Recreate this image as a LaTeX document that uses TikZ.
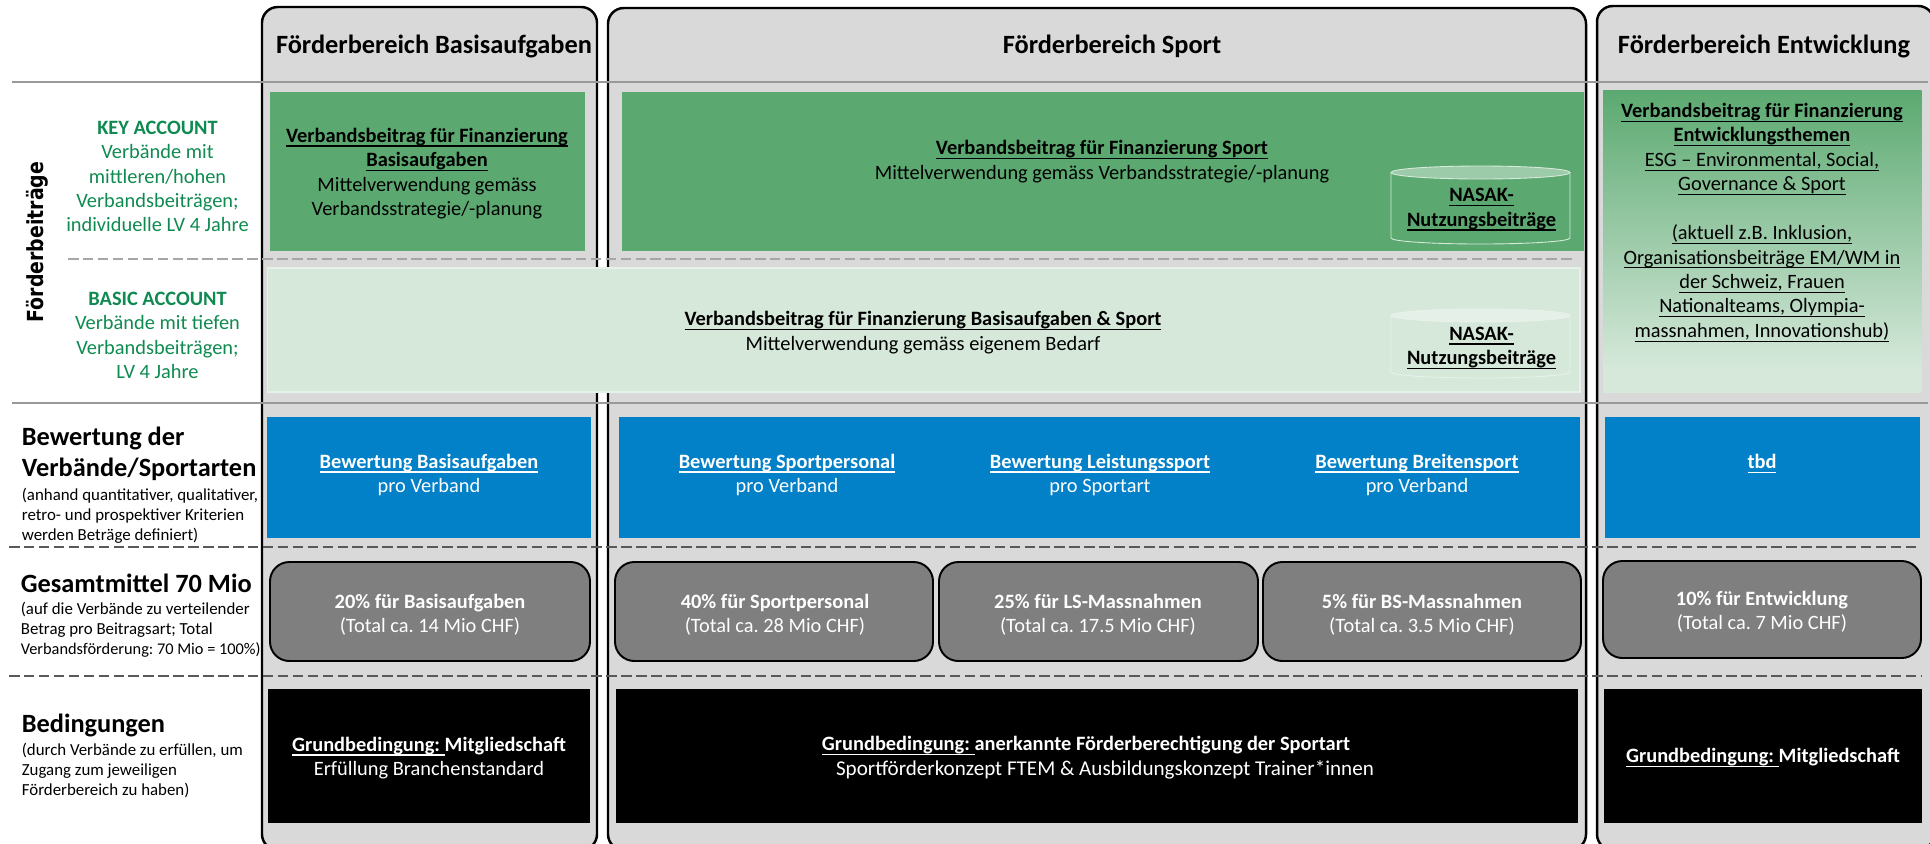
\documentclass[tikz,border=0pt]{standalone}
\usepackage{fontspec}
\setmainfont{Carlito}
\newfontfamily\labelfont{DejaVu Sans}
\newcommand{\uline}[1]{{\setbox0\hbox{#1}\rlap{\rule[-2.5pt]{\wd0}{0.7pt}}\box0}}
\definecolor{panelgray}{HTML}{D9D9D9}
\definecolor{keygreen}{HTML}{5BA970}
\definecolor{basicgreen}{HTML}{D5E8DA}
\definecolor{textgreen}{HTML}{0F8A50}
\definecolor{rateblue}{HTML}{0280C8}
\definecolor{fundgray}{HTML}{7F7F7F}
\pgfdeclareverticalshading{devshade}{100bp}{color(0bp)=(basicgreen); color(25bp)=(basicgreen); color(29bp)=(basicgreen); color(75bp)=(keygreen); color(100bp)=(keygreen)}
\tikzset{
    panel/.style={fill=panelgray, draw=black, line width=1.4pt, rounded corners=9pt},
    bodytext/.style={align=center, inner sep=0pt, font=\fontsize{11.6}{13.9}\selectfont},
    headtext/.style={inner sep=0pt, font=\fontsize{15}{17}\selectfont\bfseries},
    sidehead/.style={anchor=west, inner sep=0pt, font=\fontsize{15}{17}\selectfont\bfseries},
    sidenote/.style={anchor=north west, align=left, inner sep=0pt, font=\fontsize{9.6}{11.2}\selectfont},
    solidrule/.style={draw=gray!80, line width=0.6pt},
    softdash/.style={draw=gray!70, line width=0.6pt, dash pattern=on 6pt off 2.5pt},
    harddash/.style={draw=black!65, line width=0.6pt, dash pattern=on 6pt off 2.5pt},
    fundbox/.style={fill=fundgray, draw=black, line width=1.1pt, rounded corners=11pt}
}
\begin{document}
\frenchspacing
\begin{tikzpicture}[x=0.02cm, y=-0.02cm]
    \clip (0,0) rectangle (1930,843);
    % columns
    \draw[panel] (262,7) rectangle (597,850);
    \draw[panel] (608,8) rectangle (1586,850);
    \draw[panel] (1597,6) rectangle (1934,850);
    \node[headtext] (headbasis) at (434,46) {Förderbereich Basisaufgaben};
    \node[headtext] (headsport) at (1112,46) {Förderbereich Sport};
    \node[headtext] (headdev) at (1764,46) {Förderbereich Entwicklung};
    % rules
    \draw[solidrule] (12,82) -- (1928,82);
    \draw[softdash] (68,259) -- (1575,259);
    \draw[solidrule] (12,403) -- (1928,403);
    \draw[harddash] (9,547) -- (1917,547);
    \draw[harddash] (9,676) -- (1922,676);
    % row labels
    \node[rotate=90, inner sep=0pt, font=\labelfont\fontsize{12.6}{15}\selectfont\bfseries] (rowbeitrag) at (37,242) {\scalebox{0.855}[1]{Förderbeiträge}};
    \node[bodytext, text=textgreen] (keylabel) at (157.5,176.5) {\textbf{KEY ACCOUNT}\\Verbände mit\\mittleren/hohen\\Verbandsbeiträgen;\\individuelle LV 4 Jahre};
    \node[bodytext, text=textgreen] (basiclabel) at (157.5,335.5) {\textbf{BASIC ACCOUNT}\\Verbände mit tiefen\\Verbandsbeiträgen;\\LV 4 Jahre};
    \node[sidehead] (rowrate) at (21.5,438) {Bewertung der};
    \node[sidehead] (rowrateb) at (21.5,469) {Verbände/Sportarten};
    \node[sidenote] (rownote) at (21.5,488) {(anhand quantitativer, qualitativer,\\retro- und prospektiver Kriterien\\werden Beträge definiert)};
    \node[sidehead] (rowfund) at (20.5,583) {Gesamtmittel 70 Mio};
    \node[sidenote] (fundnote) at (20.5,602) {(auf die Verbände zu verteilender\\Betrag pro Beitragsart; Total\\{\fontsize{9.3}{11.2}\selectfont Verbandsförderung: 70 Mio = 100\%)}};
    \node[sidehead] (rowcond) at (21.5,725) {Bedingungen};
    \node[sidenote] (condnote) at (21.5,743) {(durch Verbände zu erfüllen, um\\Zugang zum jeweiligen\\Förderbereich zu haben)};
    % contributions
    \fill[keygreen] (270,92) rectangle (585,251);
    \fill[keygreen] (622,92) rectangle (1584,251);
    \draw[basicgreen!60!white, fill=basicgreen, line width=0.6pt] (267.5,268) rectangle (1580,392);
    \shade[shading=devshade] (1603,90) rectangle (1921.5,392);
    \node[bodytext] (keybasis) at (427,173.5) {\textbf{\uline{Verbandsbeitrag für Finanzierung}}\\\textbf{\uline{Basisaufgaben}}\\Mittelverwendung gemäss\\Verbandsstrategie/-planung};
    \node[bodytext] (keysport) at (1102,161.5) {\textbf{\uline{Verbandsbeitrag für Finanzierung Sport}}\\Mittelverwendung gemäss Verbandsstrategie/-planung};
    \node[bodytext] (basicall) at (923,332.5) {\textbf{\uline{Verbandsbeitrag für Finanzierung Basisaufgaben \& Sport}}\\Mittelverwendung gemäss eigenem Bedarf};
    \node[bodytext] (devall) at (1762,222.5) {\textbf{\uline{Verbandsbeitrag für Finanzierung}}\\\textbf{\uline{Entwicklungsthemen}}\\\uline{ESG – Environmental, Social,}\\\uline{Governance \& Sport}\\[\baselineskip]\uline{(aktuell z.B. Inklusion,}\\\uline{Organisationsbeiträge EM/WM in}\\\uline{der Schweiz, Frauen}\\\uline{Nationalteams, Olympia-}\\\uline{massnahmen, Innovationshub)}};
    % drums
    \foreach \t/\b/\o/\n in {172.5/238/white!75!keygreen/keydrum, 315.5/372/white!45!basicgreen/basicdrum} {
        \draw[\o, line width=0.5pt] (1391,\t) -- (1391,\b) arc[start angle=180, end angle=0, x radius=89.5, y radius=6] -- (1570,\t);
        \fill[white, opacity=0.4] (1480.5,\t) ellipse[x radius=89.5, y radius=6.5];
        \draw[\o, line width=0.5pt] (1480.5,\t) ellipse[x radius=89.5, y radius=6.5];
    }
    \node[bodytext] (keydrumtext) at (1481.5,209.5) {\textbf{\uline{NASAK-}}\\\textbf{\uline{Nutzungsbeiträge}}};
    \node[bodytext] (basicdrumtext) at (1481.5,348) {\textbf{\uline{NASAK-}}\\\textbf{\uline{Nutzungsbeiträge}}};
    % ratings
    \foreach \l/\r in {267/591, 619/1580, 1605/1919.5} {
        \fill[rateblue] (\l,417) rectangle (\r,538);
    }
    \foreach \x/\h/\s/\n in {429/Basisaufgaben/Verband/ratebasis, 787/Sportpersonal/Verband/ratestaff, 1100/Leistungssport/Sportart/rateelite, 1417/Breitensport/Verband/ratemass} {
        \node[bodytext, text=white] (\n) at (\x,475) {\textbf{\uline{Bewertung \h}}\\pro \s};
    }
    \node[bodytext, text=white] (ratedev) at (1762,464) {\textbf{\uline{tbd}}};
    % funds
    \foreach \l/\r/\t/\b in {270/590/562/661, 615/933/562/661, 939/1258/562/661, 1263/1581/562/661, 1603/1921/561/658} {
        \draw[fundbox] (\l,\t) rectangle (\r,\b);
    }
    \foreach \x/\y/\h/\s/\n in {430/614.5/20\% für Basisaufgaben/14/fundbasis, 775/614.5/40\% für Sportpersonal/28/fundstaff, 1098/614.5/25\% für LS-Massnahmen/17.5/fundelite, 1422/614.5/5\% für BS-Massnahmen/3.5/fundmass, 1762/611.5/10\% für Entwicklung/7/funddev} {
        \node[bodytext, text=white] (\n) at (\x,\y) {\textbf{\h}\\(Total ca. \s{} Mio CHF)};
    }
    % conditions
    \foreach \l/\r in {268/589.5, 616/1578, 1604/1921.5} {
        \fill[black] (\l,689) rectangle (\r,823);
    }
    \node[bodytext, text=white] (condbasis) at (429,758) {\textbf{\uline{Grundbedingung: }Mitgliedschaft}\\Erfüllung Branchenstandard};
    \node[bodytext, text=white] (condsport) at (1086,746) {\textbf{\uline{Grundbedingung: }anerkannte Förderberechtigung der Sportart}};
    \node[bodytext, text=white, font=\fontsize{12}{13.9}\selectfont] (condsportb) at (1105,770) {Sportförderkonzept FTEM \& Ausbildungskonzept Trainer*innen};
    \node[bodytext, text=white] (conddev) at (1763,758) {\textbf{\uline{Grundbedingung: }Mitgliedschaft}};
\end{tikzpicture}
\end{document}
